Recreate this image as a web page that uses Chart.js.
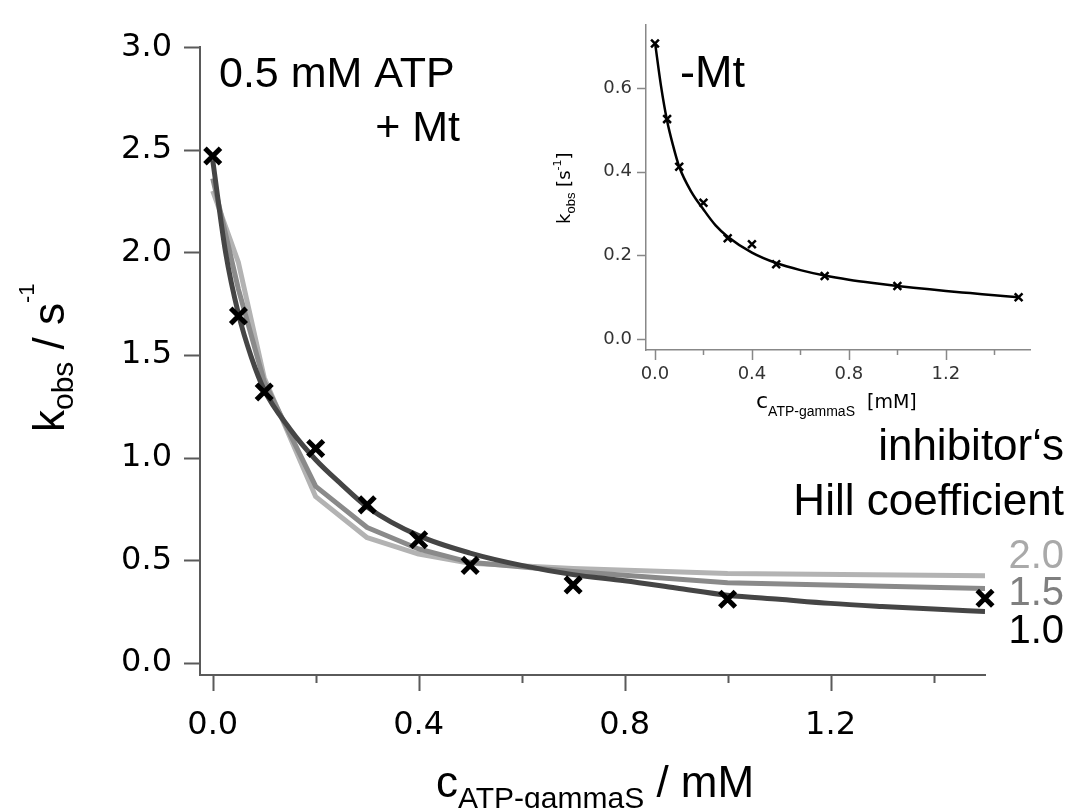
<!DOCTYPE html>
<html>
<head>
<meta charset="utf-8">
<script src="https://cdn.jsdelivr.net/npm/chart.js@4.4.1/dist/chart.umd.min.js"></script>
<style>
  body { margin: 0; background: #fff; }
  #wrap { position: relative; width: 1068px; height: 808px; overflow: hidden; }
  #main { position: absolute; left: 0; top: 0; }
  #inset { position: absolute; left: 530px; top: 0; }
</style>
</head>
<body>
<div id="wrap">
  <canvas id="main" width="1068" height="808"></canvas>
  <canvas id="inset" width="538" height="420"></canvas>
</div>
<script>
// measured ATP-gammaS concentrations (mM)
const concATPgS = [0, 0.05, 0.1, 0.2, 0.3, 0.4, 0.5, 0.7, 1.0, 1.5];
// k_obs with microtubules, 0.5 mM ATP (s^-1)
const kobsWithMt = [2.47, 1.69, 1.32, 1.045, 0.77, 0.60, 0.475, 0.38, 0.31, 0.315];

// fit with inhibitor Hill coefficient 1.0
const fitConc = [0, 0.025, 0.05, 0.075, 0.1, 0.15, 0.2, 0.25, 0.3, 0.4, 0.5, 0.6, 0.7, 0.8, 0.9, 1.0, 1.1, 1.2, 1.3, 1.4, 1.5];
const fitHill10 = [2.45, 2.0, 1.70, 1.49, 1.33, 1.14, 0.99, 0.87, 0.76, 0.62, 0.535, 0.475, 0.43, 0.40, 0.365, 0.33, 0.31, 0.29, 0.275, 0.262, 0.251];
// fits with Hill coefficient 1.5 and 2.0 (only at the measured concentrations)
const fitHill15 = [2.36, 1.82, 1.37, 0.86, 0.66, 0.555, 0.49, 0.445, 0.39, 0.362];
const fitHill20 = [2.30, 1.95, 1.39, 0.81, 0.61, 0.53, 0.485, 0.46, 0.436, 0.425];

// inset: without microtubules
const kobsNoMt = [0.707, 0.526, 0.412, 0.326, 0.241, 0.227, 0.179, 0.151, 0.127, 0.100];
const fitNoMt = [0.71, 0.605, 0.522, 0.462, 0.412, 0.352, 0.31, 0.272, 0.245, 0.207, 0.182, 0.165, 0.152, 0.142, 0.134, 0.127, 0.121, 0.115, 0.11, 0.105, 0.10];

// tick positions
const mainYTicks = [0, 0.5, 1.0, 1.5, 2.0, 2.5, 3.0];
const mainXTicks = [0, 0.2, 0.4, 0.6, 0.8, 1.0, 1.2, 1.4];
const mainXLabeled = [0, 0.4, 0.8, 1.2];
const insetYTicks = [0, 0.2, 0.4, 0.6];
const insetXTicks = [0, 0.2, 0.4, 0.6, 0.8, 1.0, 1.2, 1.4];
const insetXLabeled = [0, 0.4, 0.8, 1.2];

const SANS = "'Liberation Sans', Arial, sans-serif";
const TICKFONT = "'DejaVu Sans', sans-serif";

const pts = (xs, ys) => xs.map((x, i) => ({ x: x, y: ys[i] }));

function drawRuns(ctx, runs, x, y, angle) {
    ctx.save();
    ctx.translate(x, y);
    ctx.rotate(angle || 0);
    ctx.textAlign = "left";
    ctx.textBaseline = "alphabetic";
    let cx = 0;
    runs.forEach(r => {
        ctx.font = r.font;
        ctx.fillStyle = r.color || "#000";
        ctx.fillText(r.text, cx, r.dy || 0);
        cx += ctx.measureText(r.text).width;
    });
    ctx.restore();
}

function drawText(ctx, text, x, y, font, color, align) {
    ctx.save();
    ctx.font = font;
    ctx.fillStyle = color || "#000";
    ctx.textAlign = align || "left";
    ctx.textBaseline = "alphabetic";
    ctx.fillText(text, x, y);
    ctx.restore();
}

// Igor-style tick marks: drawn outside, major/minor lengths
const tickMarks = {
    id: "tickMarks",
    afterDraw(chart, args, opts) {
        const ctx = chart.ctx;
        const xs = chart.scales.x, ys = chart.scales.y;
        const area = chart.chartArea;
        ctx.save();
        ctx.strokeStyle = opts.color;
        ctx.lineWidth = opts.width;
        ctx.beginPath();
        xs.ticks.forEach(t => {
            const px = Math.round(xs.getPixelForValue(t.value)) + 0.5;
            const len = opts.xMajor.includes(t.value) ? opts.xMajorLen : opts.xMinorLen;
            ctx.moveTo(px, area.bottom);
            ctx.lineTo(px, area.bottom + len);
        });
        ys.ticks.forEach(t => {
            const py = Math.round(ys.getPixelForValue(t.value)) + 0.5;
            ctx.moveTo(area.left, py);
            ctx.lineTo(area.left - opts.yLen, py);
        });
        ctx.stroke();
        ctx.restore();
    }
};

const mainText = {
    id: "mainText",
    afterDraw(chart) {
        const ctx = chart.ctx;
        drawText(ctx, "0.5 mM ATP", 219, 87, "43px " + SANS);
        drawText(ctx, "+ Mt", 460, 141, "43px " + SANS, "#000", "right");
        drawText(ctx, "inhibitor\u2018s", 1064, 460, "44px " + SANS, "#000", "right");
        drawText(ctx, "Hill coefficient", 1064, 515, "44px " + SANS, "#000", "right");
        drawText(ctx, "2.0", 1064, 568, "40px " + SANS, "#a9a9a9", "right");
        drawText(ctx, "1.5", 1064, 605, "40px " + SANS, "#7f7f7f", "right");
        drawText(ctx, "1.0", 1064, 643, "40px " + SANS, "#000", "right");
        // axis titles
        drawRuns(ctx, [
            { text: "c", font: "44px " + SANS },
            { text: "ATP-gammaS", font: "30px " + SANS, dy: 11 },
            { text: " / mM", font: "44px " + SANS }
        ], 436, 797);
        drawRuns(ctx, [
            { text: "k", font: "44px " + SANS },
            { text: "obs", font: "30px " + SANS, dy: 9 },
            { text: " / s", font: "44px " + SANS },
            { text: "-1", font: "22px " + SANS, dy: -30 }
        ], 64, 432, -Math.PI / 2);
    }
};

const insetText = {
    id: "insetText",
    afterDraw(chart) {
        const ctx = chart.ctx;
        drawText(ctx, "-Mt", 150, 87, "45px " + SANS);
        drawRuns(ctx, [
            { text: "c", font: "22px " + TICKFONT },
            { text: "ATP-gammaS", font: "14px " + SANS, dy: 8 },
            { text: "  [mM]", font: "19px " + TICKFONT }
        ], 226, 408);
        drawRuns(ctx, [
            { text: "k", font: "18px " + TICKFONT },
            { text: "obs", font: "13px " + SANS, dy: 5 },
            { text: " [s", font: "18px " + TICKFONT },
            { text: "-1", font: "11px " + TICKFONT, dy: -9 },
            { text: "]", font: "18px " + TICKFONT }
        ], 40, 224, -Math.PI / 2);
    }
};

new Chart(document.getElementById("main").getContext("2d"), {
    type: "scatter",
    data: {
        datasets: [
            {
                label: "measured",
                data: pts(concATPgS, kobsWithMt),
                showLine: false,
                pointStyle: "crossRot",
                pointRadius: 11,
                pointBorderWidth: 5,
                pointBorderColor: "#000",
                borderColor: "#000",
                clip: false
            },
            {
                label: "Hill 1.0",
                data: pts(fitConc, fitHill10),
                showLine: true,
                borderColor: "#454545",
                borderWidth: 5,
                pointRadius: 0,
                cubicInterpolationMode: "monotone",
                borderJoinStyle: "round"
            },
            {
                label: "Hill 1.5",
                data: pts(concATPgS, fitHill15),
                showLine: true,
                borderColor: "#8a8a8a",
                borderWidth: 5,
                pointRadius: 0,
                tension: 0,
                borderJoinStyle: "round"
            },
            {
                label: "Hill 2.0",
                data: pts(concATPgS, fitHill20),
                showLine: true,
                borderColor: "#b3b3b3",
                borderWidth: 5,
                pointRadius: 0,
                tension: 0,
                borderJoinStyle: "round"
            }
        ]
    },
    options: {
        responsive: false,
        animation: false,
        devicePixelRatio: 1,
        events: [],
        layout: { padding: { left: 0, top: 26, right: 83, bottom: 0 } },
        scales: {
            x: {
                type: "linear",
                min: -0.0247,
                max: 1.5,
                afterBuildTicks: (scale) => { scale.ticks = mainXTicks.map(v => ({ value: v })); },
                afterFit: (scale) => { scale.height = 133; },
                grid: { display: false, drawTicks: false },
                border: { display: true, color: "#5a5a5a", width: 2 },
                ticks: {
                    padding: 31,
                    color: "#000",
                    font: { family: TICKFONT, size: 32 },
                    maxRotation: 0,
                    autoSkip: false,
                    callback: (v) => mainXLabeled.includes(v) ? v.toFixed(1) : ""
                }
            },
            y: {
                type: "linear",
                min: -0.059,
                max: 3.0,
                afterBuildTicks: (scale) => { scale.ticks = mainYTicks.map(v => ({ value: v })); },
                afterFit: (scale) => { scale.width = 200; },
                grid: { display: false, drawTicks: false },
                border: { display: true, color: "#5a5a5a", width: 2 },
                ticks: {
                    padding: 28,
                    color: "#000",
                    font: { family: TICKFONT, size: 32 },
                    autoSkip: false,
                    callback: (v) => v.toFixed(1)
                }
            }
        },
        plugins: {
            legend: { display: false },
            tooltip: { enabled: false },
            tickMarks: { color: "#5a5a5a", width: 2, xMajor: mainXLabeled, xMajorLen: 16, xMinorLen: 8, yLen: 16 }
        }
    },
    plugins: [tickMarks, mainText]
});

new Chart(document.getElementById("inset").getContext("2d"), {
    type: "scatter",
    data: {
        datasets: [
            {
                label: "measured -Mt",
                data: pts(concATPgS, kobsNoMt),
                showLine: false,
                pointStyle: "crossRot",
                pointRadius: 5.5,
                pointBorderWidth: 2.5,
                pointBorderColor: "#000",
                borderColor: "#000",
                clip: false
            },
            {
                label: "fit -Mt",
                data: pts(fitConc, fitNoMt),
                showLine: true,
                borderColor: "#000",
                borderWidth: 2.5,
                pointRadius: 0,
                cubicInterpolationMode: "monotone"
            }
        ]
    },
    options: {
        responsive: false,
        animation: false,
        devicePixelRatio: 1,
        events: [],
        layout: { padding: { left: 0, top: 25, right: 38, bottom: 0 } },
        scales: {
            x: {
                type: "linear",
                min: -0.037,
                max: 1.547,
                afterBuildTicks: (scale) => { scale.ticks = insetXTicks.map(v => ({ value: v })); },
                afterFit: (scale) => { scale.height = 70; },
                grid: { display: false, drawTicks: false },
                border: { display: true, color: "#888", width: 1.5 },
                ticks: {
                    padding: 14,
                    color: "#333",
                    font: { family: TICKFONT, size: 18 },
                    maxRotation: 0,
                    autoSkip: false,
                    callback: (v) => insetXLabeled.includes(v) ? v.toFixed(1) : ""
                }
            },
            y: {
                type: "linear",
                min: -0.026,
                max: 0.751,
                afterBuildTicks: (scale) => { scale.ticks = insetYTicks.map(v => ({ value: v })); },
                afterFit: (scale) => { scale.width = 116; },
                grid: { display: false, drawTicks: false },
                border: { display: true, color: "#888", width: 1.5 },
                ticks: {
                    padding: 14,
                    color: "#333",
                    font: { family: TICKFONT, size: 18 },
                    autoSkip: false,
                    callback: (v) => v.toFixed(1)
                }
            }
        },
        plugins: {
            legend: { display: false },
            tooltip: { enabled: false },
            tickMarks: { color: "#888", width: 1.5, xMajor: insetXLabeled, xMajorLen: 10, xMinorLen: 5, yLen: 9 }
        }
    },
    plugins: [tickMarks, insetText]
});
</script>
</body>
</html>
